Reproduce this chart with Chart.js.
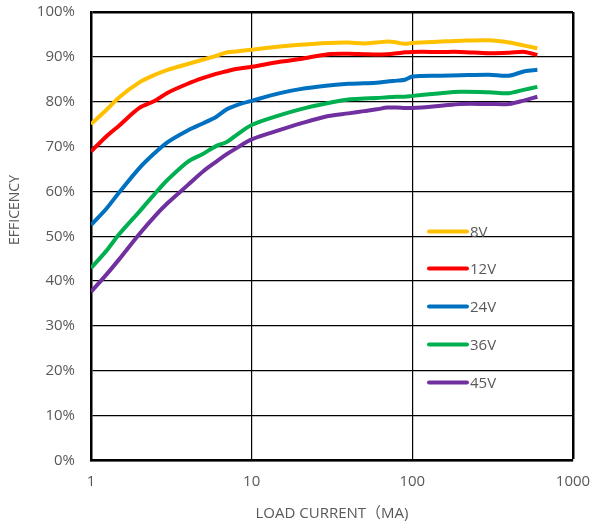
<!DOCTYPE html>
<html>
<head>
<meta charset="utf-8">
<script src="https://cdn.jsdelivr.net/npm/chart.js@4"></script>
<style>
  html, body { margin: 0; padding: 0; background: #fff; }
  #wrap { width: 593px; height: 527px; }
</style>
</head>
<body>
<div id="wrap"><canvas id="grafico"></canvas></div>
<script>
"use strict";

// corriente de carga (mA)
const corriente = [1, 1.25, 1.5, 2, 2.5, 3, 4, 5, 6, 7, 8, 10, 15, 20, 30, 40, 50, 60, 70, 80, 90, 100, 150, 200, 300, 400, 500, 600];

// eficiencia (%) por tensión de entrada
const ef8V  = [75, 78.2, 81, 84.3, 86, 87.1, 88.4, 89.4, 90.2, 91, 91.2, 91.6, 92.3, 92.7, 93.1, 93.2, 93.0, 93.2, 93.4, 93.2, 92.9, 93.1, 93.4, 93.6, 93.7, 93.2, 92.5, 91.9];
const ef12V = [68.9, 72.3, 74.7, 78.6, 80.2, 82, 84, 85.3, 86.2, 86.8, 87.3, 87.8, 88.9, 89.5, 90.6, 90.7, 90.6, 90.5, 90.6, 90.8, 91.0, 91.1, 91.1, 91.1, 90.8, 90.9, 91.1, 90.4];
const ef24V = [52.5, 56.2, 59.8, 65.2, 68.6, 71, 73.6, 75.2, 76.6, 78.3, 79.2, 80.2, 81.9, 82.8, 83.6, 84, 84.1, 84.2, 84.5, 84.7, 84.9, 85.6, 85.8, 85.9, 86.0, 85.8, 86.8, 87.1];
const ef36V = [42.9, 46.8, 50.5, 55.5, 59.5, 62.6, 66.6, 68.4, 70.1, 71.0, 72.5, 74.8, 77.0, 78.3, 79.7, 80.5, 80.7, 80.8, 81.0, 81.1, 81.1, 81.3, 81.9, 82.2, 82.1, 81.9, 82.7, 83.3];
const ef45V = [37.6, 41.5, 44.9, 50.5, 54.5, 57.4, 61.4, 64.5, 66.6, 68.3, 69.6, 71.6, 73.7, 75.1, 76.8, 77.4, 77.9, 78.3, 78.7, 78.7, 78.6, 78.6, 79.1, 79.5, 79.5, 79.5, 80.3, 81.1];

const etiquetas = ["8V", "12V", "24V", "36V", "45V"];
const colores = ["#FFC000", "#FF0000", "#0070C0", "#00B050", "#7030A0"];
const series = [ef8V, ef12V, ef24V, ef36V, ef45V];

const FUENTE = "'Open Sans', 'Noto Sans CJK SC', sans-serif";
const GRIS = "#595959";

// leyenda dibujada dentro del área del gráfico
const leyendaInterna = {
    id: "leyendaInterna",
    afterDatasetsDraw(chart) {
        const ctx = chart.ctx;
        const ys = [231.5, 268.5, 306.5, 344.5, 382.5];
        ctx.save();
        ctx.font = "15px " + FUENTE;
        ctx.textBaseline = "middle";
        ctx.lineCap = "round";
        etiquetas.forEach((txt, i) => {
            ctx.strokeStyle = colores[i];
            ctx.lineWidth = 4;
            ctx.beginPath();
            ctx.moveTo(429, ys[i]);
            ctx.lineTo(467, ys[i]);
            ctx.stroke();
            ctx.fillStyle = GRIS;
            ctx.fillText(txt, 470, ys[i] + 1);
        });
        ctx.restore();
    }
};

// título del eje Y
const tituloY = {
    id: "tituloY",
    afterDraw(chart) {
        const ctx = chart.ctx;
        ctx.save();
        ctx.translate(15, 210);
        ctx.rotate(-Math.PI / 2);
        ctx.font = "14px " + FUENTE;
        ctx.fillStyle = GRIS;
        ctx.textAlign = "center";
        ctx.textBaseline = "middle";
        ctx.fillText("EFFICENCY", 0, 0);
        ctx.restore();
    }
};

new Chart(document.getElementById("grafico").getContext("2d"), {
    type: "line",
    data: {
        labels: corriente,
        datasets: series.map((datos, i) => ({
            label: etiquetas[i],
            data: datos.map((v, k) => ({ x: corriente[k], y: v })),
            borderColor: colores[i],
            borderWidth: 4,
            pointRadius: 0,
            tension: 0.3,
            fill: false
        }))
    },
    options: {
        responsive: true,
        maintainAspectRatio: false,
        animation: false,
        layout: { padding: { top: 0, right: 0, left: 0, bottom: 0 } },
        plugins: {
            legend: { display: false },
            tooltip: { enabled: false }
        },
        scales: {
            x: {
                type: "logarithmic",
                min: 1,
                max: 1000,
                afterBuildTicks(scale) {
                    scale.ticks = [1, 10, 100, 1000].map(v => ({ value: v }));
                },
                afterFit(scale) {
                    scale.height = 66.5;
                    scale.paddingRight = 20;
                },
                ticks: {
                    color: GRIS,
                    font: { family: FUENTE, size: 15 },
                    padding: 12,
                    maxRotation: 0,
                    callback: v => String(v)
                },
                grid: {
                    color: "#000",
                    lineWidth: c => (c.tick && c.tick.value === 1000 ? 2.5 : 1.2),
                    drawTicks: false
                },
                border: { color: "#000", width: 2.5 },
                title: {
                    display: true,
                    text: "LOAD CURRENT（MA)",
                    color: GRIS,
                    font: { family: FUENTE, size: 15 },
                    padding: { top: 6 }
                }
            },
            y: {
                min: 0,
                max: 100,
                afterFit(scale) {
                    scale.width = 91;
                    scale.paddingTop = 12;
                },
                ticks: {
                    stepSize: 10,
                    color: GRIS,
                    font: { family: FUENTE, size: 15 },
                    padding: 16,
                    callback: v => v + "%"
                },
                grid: {
                    color: "#000",
                    lineWidth: c => (c.tick && c.tick.value === 100 ? 2.5 : 1.2),
                    drawTicks: false
                },
                border: { color: "#000", width: 2.5 }
            }
        }
    },
    plugins: [leyendaInterna, tituloY]
});
</script>
</body>
</html>
